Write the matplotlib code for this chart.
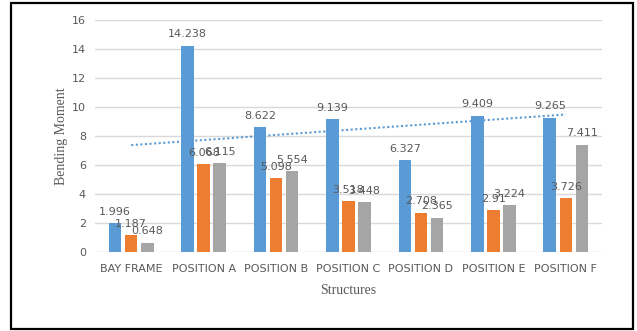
import matplotlib
matplotlib.use("Agg")
import matplotlib.pyplot as plt
import numpy as np
from matplotlib.patches import Rectangle

categories = ["BAY FRAME", "POSITION A", "POSITION B", "POSITION C",
              "POSITION D", "POSITION E", "POSITION F"]
series_1 = [1.996, 14.238, 8.622, 9.139, 6.327, 9.409, 9.265]
series_2 = [1.187, 6.068, 5.098, 3.518, 2.708, 2.91, 3.726]
series_3 = [0.648, 6.115, 5.554, 3.448, 2.365, 3.224, 7.411]
y_ticks = [0, 2, 4, 6, 8, 10, 12, 14, 16]

colors = ["#5B9BD5", "#ED7D31", "#A5A5A5"]
text_gray = "#595959"

W, H = 637, 331
fig = plt.figure(figsize=(W / 100, H / 100), dpi=100)
ax = fig.add_axes([95 / W, 1 - 252 / H, (602 - 95) / W, (252 - 20) / H])

x = np.arange(len(categories))
bar_w = 0.172
step = 0.222
for i, (vals, c) in enumerate(zip([series_1, series_2, series_3], colors)):
    pos = x + (i - 1) * step
    bars = ax.bar(pos, vals, width=bar_w, color=c, zorder=3)
    for b, v in zip(bars, vals):
        ax.annotate(f"{v:g}", (b.get_x() + b.get_width() / 2, v),
                    xytext=(0, 4.5), textcoords="offset points",
                    ha="center", va="bottom", fontsize=8,
                    color=text_gray, zorder=4)

# linear trendline of the first series
coef = np.polyfit(x, series_1, 1)
ax.plot(x, np.polyval(coef, x), linestyle=(0, (1, 1.2)), color="#5B9BD5",
        linewidth=1.5, zorder=2)

ax.set_xlim(-0.5, len(categories) - 0.5)
ax.set_ylim(0, 16)
ax.set_yticks(y_ticks)
ax.set_xticks(x)
ax.set_xticklabels(categories)
ax.tick_params(axis="both", length=0, labelsize=8, labelcolor=text_gray)
ax.tick_params(axis="x", pad=9)
ax.tick_params(axis="y", pad=6.5)
ax.grid(axis="y", color="#D9D9D9", linewidth=1, zorder=0)
for s in ax.spines.values():
    s.set_visible(False)

fig.text((95 + 602) / 2 / W, 1 - 291 / H, "Structures", ha="center",
         va="center", fontsize=10, family="Liberation Serif", color=text_gray)
fig.text(61 / W, 1 - 136 / H, "Bending Moment", ha="center", va="center",
         rotation=90, fontsize=10, family="Liberation Serif", color=text_gray)

# outer frame
fig.patches.append(Rectangle((11 / W, 1 - 329 / H), (633 - 11) / W,
                             (329 - 3) / H, transform=fig.transFigure,
                             fill=False, edgecolor="black", linewidth=1.6))

fig.savefig("out.png", dpi=100)
